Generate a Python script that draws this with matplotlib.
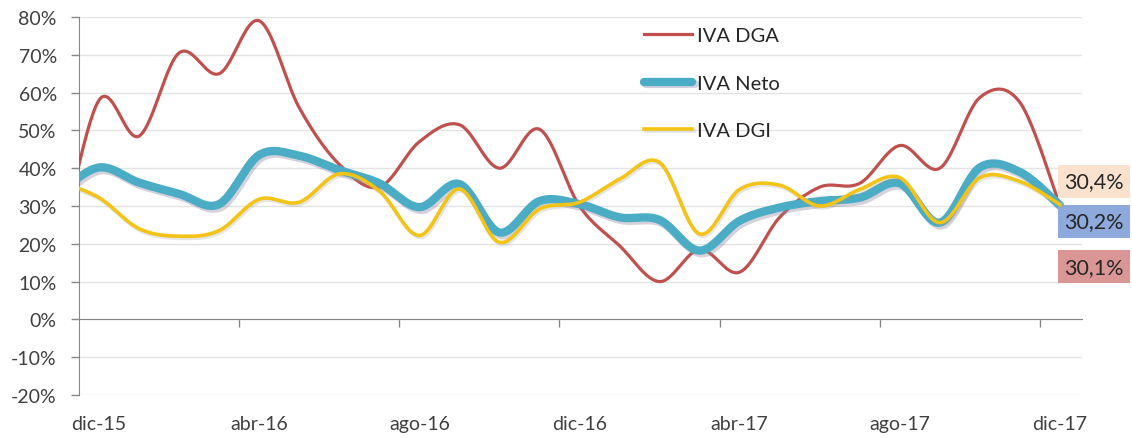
import numpy as np
import matplotlib.pyplot as plt
import matplotlib.patheffects as pe

# monthly values (%), nov-15 .. dic-17 (nov-15 sits left of the axis and is clipped)
months = ['nov-15', 'dic-15', 'ene-16', 'feb-16', 'mar-16', 'abr-16', 'may-16', 'jun-16',
          'jul-16', 'ago-16', 'sep-16', 'oct-16', 'nov-16', 'dic-16', 'ene-17', 'feb-17',
          'mar-17', 'abr-17', 'may-17', 'jun-17', 'jul-17', 'ago-17', 'sep-17', 'oct-17',
          'nov-17', 'dic-17']
iva_dga = [17, 58, 48.5, 70.5, 65, 79, 56, 41, 35, 47, 51.5, 40, 50.3, 30, 19.5, 10,
           18.5, 12.5, 27, 35, 36, 46, 40, 58.7, 57.4, 30.1]
iva_neto = [33.5, 40.2, 36.2, 33.2, 30.5, 43.5, 43.3, 39.5, 36, 29.7, 35.8, 23, 31.3,
            30.5, 27, 26.3, 18.2, 26.1, 29.6, 31.3, 32.2, 36, 25.6, 40.2, 39, 30.2]
iva_dgi = [36.5, 32.2, 24, 22, 23.5, 31.8, 31, 38.5, 34, 22.2, 34.5, 20.4, 29.2, 31,
           37.1, 41.5, 22.6, 34.4, 35.5, 30, 34.4, 37.5, 25.6, 37.5, 36.5, 30.4]

tick_labels = ['dic-15', 'abr-16', 'ago-16', 'dic-16', 'abr-17', 'ago-17', 'dic-17']
end_labels = ['30,4%', '30,2%', '30,1%']

plt.rcParams['font.family'] = ['Lato', 'DejaVu Sans']


def smooth(xs, ys, n=30):
    # bezier smoothing like excel's "smoothed line"
    p = np.column_stack([xs, ys]).astype(float)
    out = []
    for i in range(len(p) - 1):
        p0 = p[i - 1] if i > 0 else p[i]
        p1, p2 = p[i], p[i + 1]
        p3 = p[i + 2] if i + 2 < len(p) else p[i + 1]
        c1 = p1 + (p2 - p0) / 6
        c2 = p2 - (p3 - p1) / 6
        t = np.linspace(0, 1, n)[:, None]
        seg = (1 - t) ** 3 * p1 + 3 * (1 - t) ** 2 * t * c1 + 3 * (1 - t) * t ** 2 * c2 + t ** 3 * p2
        out.append(seg if i == 0 else seg[1:])
    out = np.vstack(out)
    return out[:, 0], out[:, 1]


x = np.arange(len(months)) - 1  # dic-15 -> 0

fig = plt.figure(figsize=(11.32, 4.39), dpi=100)
ax = fig.add_axes([0.0698, 0.098, 0.886, 0.861])

shadow = [pe.SimpleLineShadow(offset=(1.5, -2), shadow_color='#8a7f99', alpha=0.35), pe.Normal()]

sx, sy = smooth(x, iva_dga)
ax.plot(sx, sy, color='#C0504D', lw=2.3, label='IVA DGA', zorder=3)
sx, sy = smooth(x, iva_neto)
ax.plot(sx, sy, color='#4BACC6', lw=6, label='IVA Neto', zorder=3,
        path_effects=shadow, solid_capstyle='round')
sx, sy = smooth(x, iva_dgi)
ax.plot(sx, sy, color='#F3C316', lw=2.6, label='IVA DGI', zorder=4,
        path_effects=[pe.SimpleLineShadow(offset=(1, -1.5), shadow_color='#999999', alpha=0.25), pe.Normal()])

ax.set_xlim(-0.5, 24.55)
ax.set_ylim(-20, 80)

# y axis
ax.set_yticks(np.arange(-20, 81, 10))
ax.set_yticklabels([f'{v}%' for v in range(-20, 81, 10)])
ax.yaxis.grid(True, color='#E3E3E3', lw=1)
ax.set_axisbelow(True)
ax.tick_params(axis='y', length=6, width=1, color='#868686', pad=10,
               labelsize=14, labelcolor='#404040')

# x axis sits at 0%, labels at the bottom
ax.spines['bottom'].set_position(('data', 0))
ax.spines['bottom'].set_color('#868686')
ax.spines['left'].set_color('#868686')
ax.spines['top'].set_visible(False)
ax.spines['right'].set_visible(False)
ax.set_xticks(np.arange(0, 25, 4))
ax.set_xticklabels(tick_labels)
ax.set_xticks(np.arange(3.5, 24, 4), minor=True)
ax.tick_params(axis='x', which='major', length=0, pad=69, labelsize=14, labelcolor='#404040')
ax.tick_params(axis='x', which='minor', length=6, width=1, color='#868686', direction='out')

leg = fig.legend(loc='upper left', bbox_to_anchor=(0.553, 0.977), frameon=False,
                 fontsize=14.5, labelspacing=1.5, handlelength=2.4, handletextpad=0.25)
for t in leg.get_texts():
    t.set_color('#262626')

# end value labels
end_vals = [iva_dgi[-1], iva_neto[-1], iva_dga[-1]]
box_colors = ['#FBE2CF', '#8EA9DB', '#DA9694']
offsets = [(24.5, 16.5), (24.5, -11.5), (24.5, -44)]
for lab, v, c, off in zip(end_labels, end_vals, box_colors, offsets):
    ax.annotate(lab, xy=(x[-1], v), xytext=off, textcoords='offset points',
                ha='center', va='center', fontsize=15.5, color='#262626',
                bbox=dict(boxstyle='square,pad=0.3', fc=c, ec='none'),
                annotation_clip=False)

fig.savefig('out.png', dpi=100)
